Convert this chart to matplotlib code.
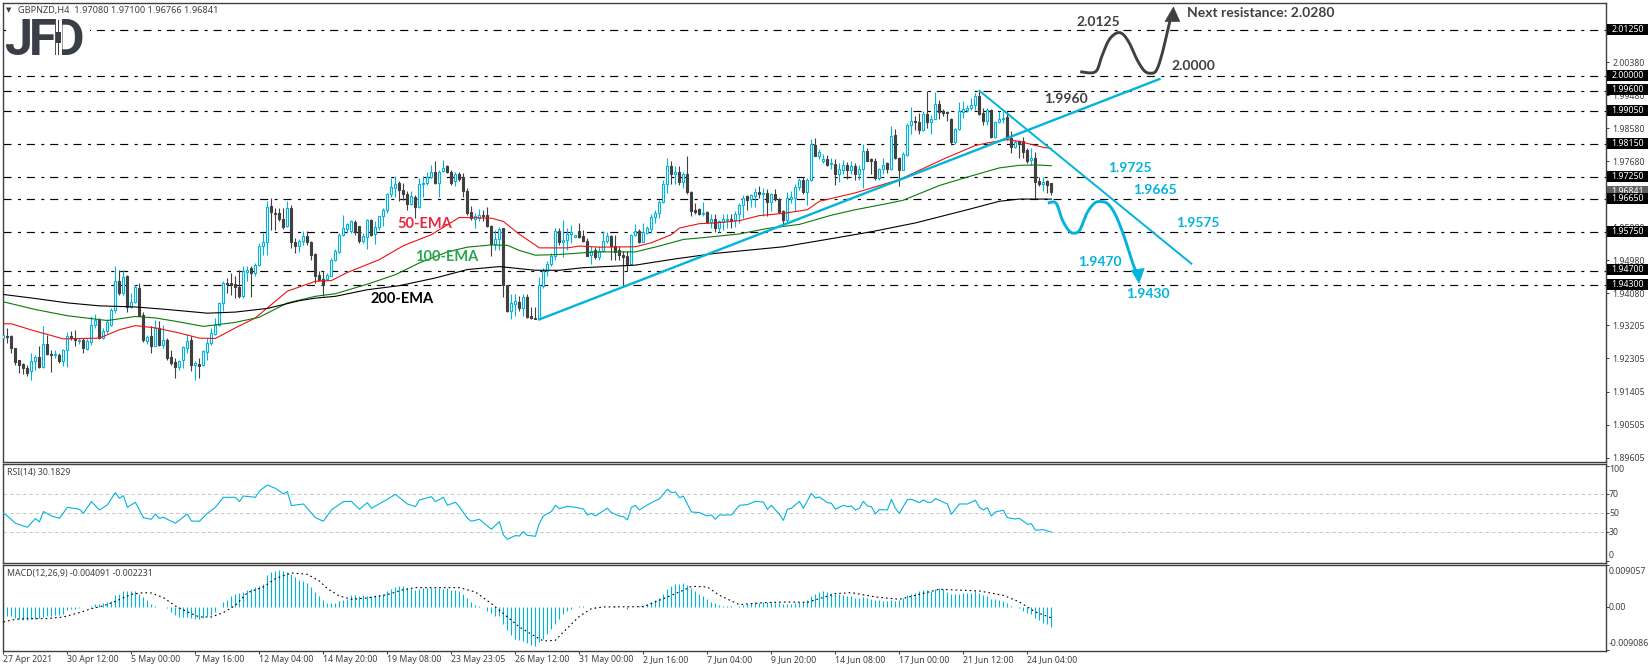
# Graphique GBPNZD H4 : chandeliers, EMA, RSI, MACD et scénarios annotés
from matplotlib import pyplot as plt
from matplotlib.patches import Polygon, Rectangle
import numpy as np

# Prix en points de 0.0001 au-dessus de 1.0000 (9286 -> 1.9286)
opens_pts = [
    9286, 9293, 9291, 9259, 9226, 9216, 9205, 9196, 9223, 9235,
    9207, 9270, 9244, 9239, 9241, 9223, 9253, 9293, 9286, 9277,
    9282, 9257, 9275, 9321, 9336, 9286, 9305, 9323, 9362, 9443,
    9409, 9454, 9370, 9384, 9423, 9349, 9278, 9293, 9265, 9314,
    9268, 9282, 9235, 9220, 9207, 9226, 9259, 9280, 9214, 9216,
    9212, 9247, 9273, 9298, 9323, 9382, 9436, 9436, 9434, 9425,
    9402, 9465, 9477, 9463, 9484, 9536, 9548, 9645, 9627, 9627,
    9611, 9591, 9641, 9549, 9536, 9550, 9565, 9548, 9516, 9459,
    9447, 9448, 9456, 9498, 9522, 9566, 9583, 9577, 9602, 9591,
    9551, 9561, 9609, 9571, 9589, 9618, 9634, 9679, 9696, 9709,
    9690, 9680, 9652, 9672, 9643, 9706, 9709, 9724, 9740, 9710,
    9742, 9754, 9740, 9713, 9734, 9724, 9687, 9630, 9611, 9614,
    9622, 9622, 9592, 9543, 9556, 9585, 9430, 9359, 9380, 9385,
    9369, 9398, 9345, 9342, 9337, 9428, 9468, 9487, 9509, 9579,
    9547, 9553, 9570, 9562, 9577, 9564, 9552, 9512, 9525, 9507,
    9523, 9550, 9564, 9538, 9526, 9512, 9511, 9487, 9566, 9577,
    9549, 9573, 9584, 9616, 9627, 9656, 9706, 9754, 9732, 9739,
    9711, 9734, 9685, 9634, 9638, 9623, 9629, 9602, 9611, 9585,
    9603, 9609, 9611, 9609, 9625, 9648, 9673, 9666, 9673, 9685,
    9679, 9682, 9656, 9679, 9665, 9632, 9609, 9666, 9668, 9697,
    9718, 9684, 9716, 9813, 9783, 9768, 9775, 9760, 9761, 9732,
    9745, 9758, 9744, 9756, 9732, 9747, 9797, 9773, 9769, 9723,
    9747, 9762, 9748, 9840, 9777, 9745, 9786, 9868, 9879, 9876,
    9852, 9898, 9874, 9883, 9924, 9904, 9902, 9883, 9820, 9856,
    9903, 9907, 9912, 9921, 9947, 9900, 9879, 9909, 9834, 9874,
    9883, 9889, 9832, 9807, 9822, 9822, 9800, 9772, 9777, 9713,
    9705, 9713, 9708,
]
closes_pts = [
    9295, 9289, 9259, 9220, 9214, 9205, 9191, 9223, 9234, 9207,
    9270, 9244, 9239, 9243, 9223, 9253, 9291, 9286, 9282, 9282,
    9259, 9277, 9323, 9336, 9286, 9305, 9329, 9364, 9441, 9409,
    9453, 9371, 9384, 9424, 9347, 9280, 9289, 9265, 9314, 9268,
    9282, 9232, 9218, 9207, 9223, 9262, 9277, 9214, 9218, 9211,
    9250, 9273, 9300, 9323, 9382, 9436, 9433, 9432, 9425, 9402,
    9468, 9473, 9463, 9484, 9538, 9548, 9643, 9629, 9624, 9611,
    9589, 9641, 9547, 9536, 9550, 9565, 9548, 9513, 9456, 9445,
    9430, 9459, 9500, 9524, 9568, 9586, 9598, 9604, 9574, 9552,
    9565, 9609, 9568, 9589, 9618, 9636, 9679, 9697, 9707, 9689,
    9680, 9652, 9674, 9643, 9707, 9710, 9725, 9740, 9709, 9740,
    9751, 9738, 9710, 9734, 9719, 9686, 9627, 9613, 9618, 9622,
    9618, 9591, 9543, 9556, 9584, 9430, 9359, 9382, 9387, 9369,
    9398, 9344, 9340, 9337, 9430, 9468, 9489, 9511, 9577, 9547,
    9554, 9570, 9575, 9566, 9562, 9550, 9511, 9523, 9507, 9523,
    9552, 9564, 9537, 9521, 9512, 9507, 9487, 9568, 9577, 9547,
    9575, 9585, 9616, 9627, 9657, 9706, 9754, 9732, 9739, 9711,
    9734, 9684, 9632, 9629, 9623, 9627, 9602, 9611, 9585, 9605,
    9611, 9611, 9609, 9625, 9650, 9668, 9662, 9675, 9685, 9679,
    9682, 9656, 9679, 9664, 9629, 9609, 9668, 9671, 9698, 9718,
    9684, 9716, 9815, 9783, 9793, 9775, 9759, 9764, 9732, 9747,
    9758, 9744, 9756, 9732, 9747, 9797, 9770, 9768, 9723, 9747,
    9758, 9748, 9838, 9776, 9745, 9788, 9868, 9879, 9875, 9852,
    9898, 9874, 9883, 9924, 9902, 9900, 9900, 9820, 9856, 9905,
    9911, 9913, 9921, 9947, 9898, 9877, 9909, 9834, 9875, 9883,
    9886, 9832, 9807, 9820, 9816, 9792, 9768, 9777, 9711, 9707,
    9711, 9704, 9684.1,
]
highs_pts = [
    9309, 9314, 9295, 9259, 9227, 9218, 9214, 9246, 9241, 9264,
    9318, 9295, 9255, 9255, 9246, 9256, 9303, 9305, 9309, 9286,
    9286, 9284, 9345, 9353, 9341, 9314, 9338, 9368, 9482, 9471,
    9471, 9459, 9409, 9432, 9436, 9356, 9295, 9318, 9336, 9332,
    9323, 9286, 9255, 9232, 9227, 9264, 9298, 9291, 9223, 9232,
    9255, 9286, 9314, 9341, 9384, 9443, 9450, 9463, 9454, 9473,
    9483, 9482, 9482, 9491, 9545, 9572, 9659, 9668, 9640, 9640,
    9640, 9660, 9650, 9559, 9556, 9577, 9579, 9550, 9518, 9468,
    9468, 9463, 9504, 9529, 9572, 9622, 9601, 9609, 9609, 9592,
    9572, 9611, 9611, 9604, 9620, 9640, 9681, 9722, 9729, 9713,
    9710, 9686, 9686, 9677, 9722, 9727, 9740, 9759, 9768, 9745,
    9772, 9759, 9743, 9740, 9740, 9736, 9695, 9645, 9627, 9638,
    9636, 9643, 9595, 9581, 9588, 9586, 9432, 9405, 9405, 9400,
    9405, 9405, 9371, 9371, 9453, 9477, 9496, 9518, 9586, 9586,
    9609, 9586, 9593, 9568, 9600, 9580, 9559, 9536, 9535, 9538,
    9577, 9575, 9568, 9568, 9537, 9523, 9523, 9571, 9598, 9584,
    9600, 9591, 9623, 9635, 9662, 9716, 9777, 9768, 9754, 9754,
    9738, 9783, 9686, 9653, 9641, 9657, 9632, 9623, 9625, 9609,
    9623, 9625, 9623, 9632, 9653, 9677, 9675, 9680, 9695, 9700,
    9695, 9693, 9682, 9693, 9668, 9636, 9684, 9686, 9707, 9723,
    9725, 9723, 9829, 9832, 9802, 9788, 9786, 9777, 9774, 9764,
    9771, 9765, 9768, 9762, 9759, 9816, 9804, 9777, 9777, 9750,
    9777, 9765, 9865, 9856, 9780, 9793, 9872, 9916, 9891, 9900,
    9904, 9960, 9895, 9957, 9936, 9911, 9904, 9886, 9859, 9929,
    9932, 9922, 9941, 9954, 9960, 9913, 9913, 9911, 9877, 9904,
    9907, 9904, 9850, 9827, 9827, 9834, 9804, 9804, 9792, 9725,
    9725, 9716, 9710,
]
lows_pts = [
    9264, 9273, 9246, 9214, 9191, 9187, 9182, 9173, 9200, 9205,
    9205, 9241, 9193, 9232, 9218, 9209, 9207, 9282, 9264, 9271,
    9246, 9255, 9268, 9314, 9284, 9284, 9300, 9318, 9354, 9404,
    9404, 9356, 9368, 9382, 9345, 9275, 9271, 9246, 9264, 9264,
    9259, 9227, 9214, 9177, 9198, 9205, 9246, 9196, 9173, 9177,
    9209, 9227, 9268, 9295, 9318, 9359, 9409, 9404, 9395, 9395,
    9395, 9441, 9397, 9454, 9482, 9513, 9513, 9581, 9581, 9604,
    9583, 9589, 9532, 9518, 9522, 9541, 9541, 9500, 9436, 9441,
    9402, 9445, 9454, 9495, 9518, 9563, 9572, 9572, 9568, 9545,
    9545, 9529, 9565, 9543, 9582, 9591, 9627, 9672, 9672, 9659,
    9663, 9636, 9650, 9613, 9641, 9672, 9704, 9722, 9706, 9670,
    9738, 9736, 9704, 9700, 9713, 9672, 9622, 9609, 9586, 9604,
    9604, 9589, 9509, 9527, 9527, 9398, 9357, 9337, 9346, 9359,
    9346, 9341, 9337, 9337, 9337, 9423, 9455, 9482, 9500, 9541,
    9507, 9527, 9546, 9561, 9559, 9547, 9509, 9487, 9502, 9498,
    9520, 9544, 9500, 9500, 9500, 9429, 9468, 9484, 9564, 9546,
    9547, 9571, 9573, 9600, 9614, 9655, 9682, 9705, 9705, 9702,
    9695, 9680, 9620, 9623, 9621, 9620, 9600, 9586, 9575, 9575,
    9582, 9586, 9586, 9588, 9600, 9614, 9636, 9644, 9644, 9668,
    9618, 9620, 9632, 9659, 9627, 9596, 9600, 9653, 9632, 9691,
    9680, 9650, 9714, 9782, 9773, 9764, 9756, 9747, 9702, 9711,
    9732, 9720, 9732, 9716, 9718, 9695, 9768, 9732, 9716, 9718,
    9732, 9736, 9744, 9773, 9700, 9744, 9783, 9841, 9854, 9843,
    9850, 9859, 9841, 9882, 9882, 9891, 9877, 9812, 9816, 9854,
    9886, 9902, 9907, 9909, 9895, 9868, 9866, 9832, 9832, 9871,
    9872, 9827, 9791, 9804, 9777, 9777, 9763, 9759, 9668, 9700,
    9686, 9682, 9676.6,
]

# Moyennes mobiles relevées aux sommets de chaque courbe (barre, points)
ema50_bars = [0, 2, 8, 15, 24, 29, 33, 38, 44, 49, 53, 58, 63, 71, 78, 82, 86, 94, 100, 107,
              114, 122, 125, 129, 134, 141, 144, 149, 158, 162, 167, 169, 174, 178, 184, 189,
              195, 201, 204, 213, 220, 224, 235, 243, 246, 251, 254, 260, 262]
ema50_pts = [9325, 9325, 9305, 9284, 9286, 9309, 9320, 9314, 9300, 9286, 9285, 9314, 9341,
             9414, 9441, 9443, 9465, 9500, 9538, 9568, 9615, 9613, 9604, 9569, 9532, 9532,
             9537, 9534, 9535, 9546, 9568, 9586, 9598, 9600, 9606, 9620, 9626, 9636, 9659,
             9682, 9705, 9718, 9774, 9811, 9818, 9827, 9822, 9806, 9803]
ema100_bars = [0, 8, 16, 26, 33, 38, 43, 50, 58, 64, 71, 78, 83, 91, 98, 104, 111, 116, 122,
               126, 129, 133, 139, 148, 158, 164, 170, 176, 184, 191, 199, 207, 213, 222, 225,
               234, 241, 249, 254, 258, 262]
ema100_pts = [9385, 9364, 9347, 9334, 9345, 9341, 9332, 9318, 9329, 9343, 9382, 9400, 9407,
              9433, 9459, 9491, 9521, 9534, 9540, 9539, 9525, 9512, 9514, 9521, 9521, 9537,
              9555, 9561, 9570, 9585, 9596, 9621, 9636, 9655, 9662, 9702, 9725, 9750, 9757,
              9758, 9756]
ema200_bars = [0, 8, 16, 24, 33, 41, 51, 58, 66, 74, 78, 83, 91, 99, 108, 116, 124, 133, 139,
               145, 158, 168, 178, 195, 208, 217, 228, 241, 249, 254, 258, 262]
ema200_pts = [9405, 9394, 9382, 9374, 9371, 9364, 9354, 9357, 9367, 9388, 9395, 9400, 9418,
              9429, 9450, 9473, 9481, 9471, 9471, 9478, 9485, 9502, 9517, 9535, 9559, 9576,
              9600, 9636, 9659, 9665, 9665, 9665]

# RSI(14)
rsi_bars = [0, 1, 3, 6, 8, 9, 10, 12, 14, 16, 19, 20, 22, 24, 26, 28, 29, 30, 31, 33, 35, 37, 38,
            39, 40, 43, 46, 47, 49, 51, 53, 55, 58, 59, 60, 63, 64, 66, 68, 70, 71, 72, 75, 78,
            80, 82, 85, 87, 89, 91, 92, 96, 98, 101, 103, 104, 107, 108, 110, 111, 113, 114, 116,
            117, 119, 122, 124, 125, 126, 128, 129, 130, 131, 133, 134, 135, 137, 138, 139, 141,
            143, 145, 146, 147, 148, 151, 152, 154, 155, 156, 157, 158, 159, 161, 163, 164, 166,
            167, 168, 169, 170, 172, 174, 176, 177, 178, 179, 182, 184, 186, 188, 190, 191, 192,
            194, 195, 196, 197, 199, 200, 202, 203, 204, 206, 207, 208, 210, 211, 212, 213, 214,
            215, 216, 217, 218, 219, 221, 222, 223, 224, 226, 227, 229, 230, 231, 232, 233, 235,
            236, 237, 239, 241, 243, 244, 245, 246, 247, 248, 250, 251, 253, 254, 256, 257, 258,
            260, 262]
rsi_values = [50, 47.2, 39.5, 35.3, 44.4, 40.9, 51.8, 47.2, 44.7, 56.3, 54.2, 50, 62.3, 53.5, 58.8,
              71.8, 65.8, 68.6, 56.3, 61.6, 45.4, 43.7, 49.3, 44.7, 45.8, 39.5, 49.3, 41.9, 41.6,
              50, 56.3, 66.8, 66.8, 62.3, 68.2, 66.8, 73.5, 79.8, 76.3, 70.4, 72.8, 58.1, 59.8,
              45.4, 41.6, 53.5, 62.3, 62.6, 54.2, 61.2, 55.3, 64.7, 70, 59.8, 57, 64, 67.5, 62.3,
              66.8, 58.4, 61.6, 57, 44.7, 41.6, 43.7, 33.2, 41.2, 27.2, 22.6, 26.5, 26.1, 30.7,
              26.8, 25.8, 39.5, 47.2, 51.8, 58.4, 54.9, 57.4, 56.3, 54.6, 48.2, 50, 47.2, 55.3,
              50.7, 47.2, 46.5, 43, 56.3, 58.4, 53.5, 58.8, 63.3, 65.1, 75.3, 71.8, 72.5, 66.5,
              67.9, 51.4, 50.7, 47.2, 48.2, 43.7, 48.2, 48.2, 58.4, 59.1, 62.6, 61.9, 54.2, 58.4,
              48.9, 42.6, 54.2, 55.3, 62.6, 55.3, 71, 66.1, 67.2, 61.2, 60.5, 54.2, 58.4, 57,
              57.7, 53.5, 55.3, 62.6, 57.7, 57, 49.3, 53.9, 53.5, 64.7, 55.3, 50, 64.4, 64.7,
              61.2, 64, 61.6, 61.6, 65.4, 61.6, 59.8, 48.9, 59.8, 59.8, 63.7, 56.3, 53.5, 56,
              47.2, 51.4, 53.2, 45.4, 44, 44.7, 38.4, 39, 32.1, 32.8, 30.18]

# MACD(12,26,9) en millièmes : histogramme (une valeur par barre) et signal
macd_hist = [
    -2.04, -1.76, -1.76, -2.18, -2.39, -2.60, -2.60, -2.39, -2.39, -2.18,
    -2.04, -1.90, -1.83, -1.69, -1.55, -1.41, -0.63, -0.42, -0.35, -0.14,
    0, 0, 0.35, 0.77, 0.70, 0.84, 1.05, 1.41, 2.53, 2.88,
    3.37, 3.37, 3.44, 3.52, 2.88, 2.18, 1.48, 0.63, 0.35, 0.14,
    0.07, -0.14, -0.98, -1.69, -1.97, -2.04, -2.11, -2.18, -2.39, -2.46,
    -2.18, -1.90, -1.55, -0.98, 0, 1.05, 1.48, 2.32, 2.88, 3.02,
    3.30, 3.59, 3.94, 4.22, 4.57, 4.99, 6.75, 7.38, 7.73, 7.80,
    7.73, 7.52, 7.10, 6.40, 5.83, 5.48, 5.13, 4.29, 3.16, 2.39,
    1.48, 0.91, 0.91, 0.98, 1.27, 1.48, 1.83, 2.53, 2.53, 2.39,
    2.53, 2.39, 2.39, 2.53, 2.53, 2.74, 3.37, 3.80, 4.29, 4.43,
    4.43, 4.08, 3.80, 3.59, 3.94, 4.08, 4.08, 4.08, 4.08, 4.08,
    3.94, 4.08, 3.73, 3.59, 3.44, 2.88, 2.04, 1.12, 0.56, 0.28,
    0, -0.70, -1.20, -1.90, -1.90, -3.44, -4.85, -5.91, -6.61, -6.96,
    -7.17, -7.52, -8.01, -8.23, -7.31, -6.61, -5.69, -4.64, -3.44, -2.39,
    -1.34, -0.84, -0.28, 0, 0.28, 0.28, 0.07, 0, -0.07, 0,
    0.07, 0.07, 0.14, 0.21, 0.14, 0, -0.42, 0.07, 0.14, 0.21,
    0.42, 0.77, 1.12, 1.62, 2.04, 2.88, 3.80, 4.43, 4.85, 4.92,
    5.06, 4.64, 4.08, 3.37, 2.88, 2.39, 1.69, 1.20, 0.91, 0.49,
    0.35, 0.35, 0.28, 0.14, 0.28, 0.49, 0.77, 0.91, 1.12, 0.98,
    1.20, 1.20, 1.12, 0.98, 0.91, 0.63, 0.63, 0.77, 0.91, 1.05,
    1.05, 1.48, 2.32, 2.74, 3.16, 3.37, 3.23, 3.09, 2.88, 2.74,
    2.60, 2.46, 2.32, 1.97, 2.04, 2.18, 1.97, 1.83, 1.48, 1.48,
    1.41, 1.27, 1.48, 1.34, 1.48, 1.97, 2.53, 2.88, 3.09, 3.44,
    3.59, 3.59, 3.44, 3.94, 4.08, 3.87, 3.30, 2.88, 2.81, 2.88,
    3.02, 3.09, 3.09, 3.37, 3.09, 2.60, 2.32, 1.83, 1.69, 1.48,
    1.27, 0.84, 0.35, 0, -0.14, -0.77, -1.20, -1.34, -2.32, -2.74,
    -3.23, -3.59, -4.09,
]
signal_bars = [0, 3, 6, 11, 15, 19, 22, 25, 28, 32, 35, 37, 40, 43, 46, 49, 52, 55, 58, 61, 65, 68,
               72, 76, 79, 81, 84, 87, 91, 96, 100, 103, 114, 118, 122, 127, 129, 132, 135, 138,
               140, 144, 147, 150, 160, 165, 170, 172, 176, 179, 184, 190, 196, 201, 204, 208,
               212, 218, 224, 228, 234, 244, 250, 254, 258, 262]
signal_values = [-3.09, -2.53, -2.39, -2.39, -2.04, -1.12, -0.28, 0.28, 1.27, 2.74, 3.09, 3.02,
                 2.04, 0.28, -0.98, -2.04, -2.04, -1.12, 0.42, 3.09, 4.29, 6.05, 7.24, 6.96, 5.55,
                 3.94, 2.39, 1.69, 1.97, 2.67, 3.73, 4.15, 4.15, 3.23, 0.77, -2.74, -4.15, -5.69,
                 -7.10, -6.96, -5.20, -1.90, -0.28, 0.07, 0.14, 1.83, 3.59, 4.43, 4.29, 2.53, 0.56,
                 0.98, 1.12, 1.05, 1.83, 2.88, 3.09, 2.18, 1.69, 2.53, 3.80, 3.44, 2.53, 1.12,
                 -0.98, -2.23]

# Niveaux horizontaux, graduations et étiquettes
levels = [2.0125, 2.0000, 1.9960, 1.9905, 1.9815, 1.9725, 1.9665, 1.9575, 1.9470, 1.9430]
price_ticks = [2.0038, 1.9948, 1.9858, 1.9768, 1.9588, 1.9498, 1.9408,
               1.93205, 1.92305, 1.91405, 1.90505, 1.89605]
time_labels = ["27 Apr 2021", "30 Apr 12:00", "5 May 00:00", "7 May 16:00", "12 May 04:00",
               "14 May 20:00", "19 May 08:00", "23 May 23:05", "26 May 12:00", "31 May 00:00",
               "2 Jun 16:00", "7 Jun 04:00", "9 Jun 20:00", "14 Jun 08:00", "17 Jun 00:00",
               "21 Jun 12:00", "24 Jun 04:00"]

# Lignes de tendance et scénarios (barre, points)
up_trend_bars, up_trend_pts = [134, 289], [9337, 9992]
down_trend_bars, down_trend_pts = [244, 297], [9960, 9489]
bull_bars = [269.2, 273, 274.6, 276.3, 278.2, 279.8, 281.5, 283.4, 285.2, 286.7, 288.2, 289.6, 291.1, 291.9]
bull_pts = [10012, 10012, 10054, 10097, 10117, 10115, 10090, 10045, 10015, 10008, 10015, 10058, 10126, 10163]
bull_head_bars, bull_head_pts = [290.4, 292.5, 294.1], [10149, 10188, 10149]
bear_bars = [261.1, 263.15, 264.7, 266.3, 267.6, 269.1, 270.9, 272.8, 274.6, 276.3, 278.2, 280.3, 282.3, 283.4]
bear_pts = [9654, 9654, 9609, 9580, 9572, 9581, 9627, 9654, 9658, 9650, 9618, 9559, 9491, 9462]
bear_head_bars, bear_head_pts = [282, 283.9, 285.2], [9471, 9436, 9476]

W, H = 1651, 671
CYAN = "#00B4DC"
DARK = "#404040"
LABEL_FONT = "Noto Sans"
NOTE_FONT = "Lato"


def prix(pts) -> np.ndarray:
    return 1 + np.asarray(pts, dtype=float) / 1e4


def cadre(top: float, bottom: float):
    """Axes placés au pixel près dans la figure"""
    ax = plt.gcf().add_axes([2.5 / W, 1 - bottom / H, 1603 / W, (bottom - top) / H])
    ax.set_xlim(-0.225, 400.525)
    ax.set_facecolor("white")
    ax.yaxis.tick_right()
    ax.tick_params(colors=DARK, length=2, width=0.72, labelsize=6.3, pad=3)
    ax.set_xticks([])
    for spine in ax.spines.values():
        spine.set_color(DARK)
        spine.set_linewidth(1.0)
    return ax


def lissage(x, y, n: int = 10):
    """Courbe Catmull-Rom passant par les points relevés"""
    x, y = np.asarray(x, dtype=float), np.asarray(y, dtype=float)
    p = np.column_stack([x, y])
    p = np.vstack([p[0], p, p[-1]])
    t = np.linspace(0, 1, n, endpoint=False)[:, None]
    out = []
    for i in range(1, len(p) - 2):
        a, b, c, d = p[i - 1], p[i], p[i + 1], p[i + 2]
        out.append(0.5 * (2 * b + (c - a) * t + (2 * a - 5 * b + 4 * c - d) * t ** 2
                          + (3 * b - a - 3 * c + d) * t ** 3))
    out.append(p[-2:-1])
    out = np.vstack(out)
    return out[:, 0], out[:, 1]


def texte(x, y, s, **kw):
    plt.gcf().text(x / W, 1 - y / H, s, **kw)


def panneau_prix():
    ax = cadre(2.5, 461.5)
    price_of = lambda y: 2.0125 - (y - 30.3) / 3669
    ax.set_ylim(price_of(461.5), price_of(2.5))
    ax.set_yticks(price_ticks + levels)
    # Les niveaux ont leur étiquette encadrée, pas de libellé de graduation
    ax.set_yticklabels([f"{t:.5f}" for t in price_ticks] + [""] * len(levels),
                       fontfamily=LABEL_FONT, color=DARK)

    pattern = (0, (5.8, 4.6, 2.2, 4.2))
    for level in levels:
        ax.axhline(level, color="black", lw=0.85, ls=pattern, zorder=1)

    o, c, h, l = prix(opens_pts), prix(closes_pts), prix(highs_pts), prix(lows_pts)
    bars = np.arange(len(o))
    up = c >= o
    ax.vlines(bars[up], l[up], h[up], color=CYAN, lw=0.8, zorder=2)
    ax.vlines(bars[~up], l[~up], h[~up], color=DARK, lw=0.8, zorder=2)
    ax.bar(bars[up], (c - o)[up], bottom=o[up], width=0.5, facecolor="white",
           edgecolor=CYAN, linewidth=0.8, zorder=3)
    ax.bar(bars[~up], (c - o)[~up], bottom=o[~up], width=0.5, facecolor=DARK,
           edgecolor=DARK, linewidth=0.8, zorder=3)

    ax.plot(ema50_bars, prix(ema50_pts), color="#F01010", lw=0.8, zorder=4)
    ax.plot(ema100_bars, prix(ema100_pts), color="#0A7A0A", lw=0.8, zorder=4)
    ax.plot(ema200_bars, prix(ema200_pts), color="black", lw=0.8, zorder=4)

    ax.plot(up_trend_bars, prix(up_trend_pts), color=CYAN, lw=1.7, zorder=5)
    ax.plot(down_trend_bars, prix(down_trend_pts), color=CYAN, lw=1.4, zorder=5)

    x, y = lissage(bull_bars, bull_pts)
    ax.plot(x, prix(y), color=DARK, lw=2.1, zorder=6, solid_capstyle="butt")
    ax.add_patch(Polygon(np.column_stack([bull_head_bars, prix(bull_head_pts)]), fc=DARK, ec=DARK,
                         lw=0.5, zorder=6, clip_on=False))
    x, y = lissage(bear_bars, bear_pts)
    ax.plot(x, prix(y), color=CYAN, lw=2.1, zorder=6, solid_capstyle="butt")
    ax.add_patch(Polygon(np.column_stack([bear_head_bars, prix(bear_head_pts)]), fc=CYAN, ec=CYAN,
                         lw=0.5, zorder=6))

    # Étiquettes encadrées de l'échelle de droite
    trans = ax.get_yaxis_transform()
    box_h = 5.5 / 3669
    px = 1 / 1603
    def etiquette(value, fc, z):
        y = value + 1 / 3669
        ax.add_patch(Rectangle((1 + 1.2 * px, y - box_h), 41 * px, 2 * box_h, transform=trans,
                               fc=fc, ec="none", clip_on=False, zorder=z))
        ax.text(1 + 6 * px, y, f"{value:.5f}", transform=trans, color="white", va="center",
                ha="left", fontsize=6.3, fontfamily=LABEL_FONT, zorder=z + 0.1, clip_on=False)
    etiquette(1.96841, "#606060", 7)
    for level in levels:
        etiquette(level, "black", 8)
    return ax


def panneau_rsi():
    ax = cadre(463.5, 562.5)
    ax.set_ylim(-1.8, 102.4)
    ax.set_yticks([0, 30, 50, 70, 100])
    ax.set_yticklabels([])
    for level in [30, 50, 70]:
        ax.axhline(level, color="#C8C8C8", lw=0.72, ls=(0, (2.6, 2.0)), zorder=1)
    ax.plot(rsi_bars, rsi_values, color=CYAN, lw=0.8, zorder=3)
    return ax


def panneau_macd():
    ax = cadre(564.5, 650.5)
    ax.set_ylim(-9.115, 9.03)
    ax.set_yticks([-9.0, 0, 9.0])
    ax.set_yticklabels([])
    ax.vlines(np.arange(len(macd_hist)), 0, macd_hist, color=CYAN, lw=0.8, zorder=2)
    ax.plot(signal_bars, signal_values, color="black", lw=0.8, ls=(0, (1.2, 2.2)), zorder=3)
    positions = np.arange(len(time_labels)) * 16
    ax.set_xticks(positions)
    ax.set_xticklabels(time_labels, fontfamily=LABEL_FONT, color=DARK, ha="left")
    ax.tick_params(axis="x", length=2.2, width=0.72, pad=1)
    return ax


def logo():
    # Le fût du D est remplacé par un petit chandelier, comme dans le logo d'origine
    fig = plt.gcf()
    style = dict(fontfamily="Roboto", fontweight="bold", fontsize=36, color="#3A3F47", va="baseline")
    fig.add_artist(Rectangle((6 / W, 1 - 56 / H), 84 / W, 37 / H, fc="white", ec="none", zorder=10))
    texte(52, 55, "D", zorder=11, **style)
    fig.add_artist(Rectangle((55.5 / W, 1 - 58 / H), 6.5 / W, 40 / H, fc="white", ec="none", zorder=12))
    texte(5, 55, "J", zorder=13, **style)
    texte(29, 55, "F", zorder=13, **style)
    fig.add_artist(Rectangle((57.8 / W, 1 - 55 / H), 1 / W, 35 / H, fc="#3A3F47", ec="none", zorder=14))
    fig.add_artist(Rectangle((56.3 / W, 1 - 43 / H), 4.5 / W, 11 / H, fc="#3A3F47", ec="none", zorder=14))


def main():
    plt.rcParams["lines.scale_dashes"] = False
    plt.rcParams["font.family"] = [LABEL_FONT, "DejaVu Sans"]
    fig = plt.figure(figsize=(W / 100, H / 100), dpi=100, facecolor="white")

    panneau_prix()
    panneau_rsi()
    panneau_macd()
    logo()

    small = dict(fontsize=6.3, color=DARK, va="center", ha="left", fontfamily=LABEL_FONT)
    texte(6, 10.5, "\u25BC", fontsize=5, color=DARK, va="center", ha="left", fontfamily="DejaVu Sans")
    texte(18, 10.5, "GBPNZD,H4  1.97080 1.97100 1.96766 1.96841", **dict(small, fontsize=6.6))
    texte(7, 472.3, "RSI(14) 30.1829", **small)
    texte(7, 573.3, "MACD(12,26,9) -0.004091 -0.002231", **small)
    for value, y in zip(["100", "70", "50", "30", "0"], [470, 494.3, 513.3, 532.3, 555.7]):
        texte(1609, y, value, **small)
    for value, y in zip(["0.009057", "0.00", "-0.009086"], [571.7, 607.3, 643.3]):
        texte(1609, y, value, **small)

    note = dict(fontfamily=NOTE_FONT, fontweight="bold", fontsize=10, va="center", ha="center")
    ema = dict(note, fontsize=10.5)
    texte(425, 224, "50-EMA", color="#E8283C", **ema)
    texte(447, 257, "100-EMA", color="#25A84A", **ema)
    texte(402, 299, "200-EMA", color="black", **ema)
    for s, X, Y in [("2.0125", 238, 66), ("2.0000", 465, 198), ("1.9960", 160, 297)]:
        texte(1000 + X / 2.41, Y / 3, s, color=DARK, **note)
    for s, X, Y in [("1.9725", 313, 504), ("1.9665", 373, 570), ("1.9575", 477, 669),
                    ("1.9470", 241, 787), ("1.9430", 357, 882)]:
        texte(1000 + X / 2.41, Y / 3, s, color=CYAN, **note)
    texte(1000 + 450 / 2.41, 40 / 3, "Next resistance: 2.0280", color=DARK,
          **dict(note, ha="left"))

    fig.savefig("out.png", dpi=100)


if __name__ == "__main__":
    main()
